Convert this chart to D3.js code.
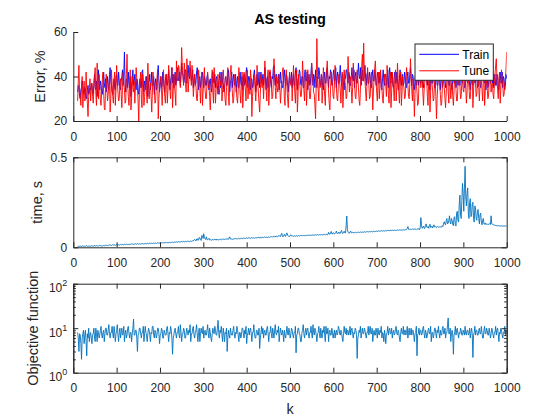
<!DOCTYPE html>
<html>
<head>
<meta charset="utf-8">
<script src="https://cdn.jsdelivr.net/npm/d3@7"></script>
<style>
  body { margin: 0; background: #fff; }
  svg { font-family: "Liberation Sans", Arial, sans-serif; }
</style>
</head>
<body>
<svg id="chart" width="560" height="420"></svg>
<script>
// error, % on the train set (blue), k = 10 .. 1000
const errTrain = [
  33,36,35,31,30,34,35,38,36,33,32,35,34,31,30,34,36,32,33,35,34,37,
  36,33,32,37,41,35,34,38,31,34,43,37,34,38,36,33,32,36,42,37,35,39,
  33,37,40,35,34,41,44,38,36,33,32,36,39,35,34,40,41,37,36,42,38,35,
  34,38,40,43,36,41,51,37,33,39,38,35,42,37,35,40,31,36,39,43,36,38,
  41,36,34,39,38,33,32,37,39,35,35,42,43,37,33,38,37,34,40,36,31,37,
  38,41,34,37,42,36,36,40,32,37,39,34,35,41,45,38,33,36,40,35,36,42,
  39,35,33,38,41,37,36,39,43,37,34,38,40,44,37,41,35,39,42,36,38,43,
  44,39,38,42,36,40,46,41,41,37,38,43,43,39,37,41,45,40,39,44,42,38,
  39,43,35,38,41,36,37,42,44,38,34,39,40,35,38,41,42,37,35,40,39,36,
  36,40,41,37,34,38,39,35,33,37,42,38,37,41,35,39,40,36,32,37,39,42,
  35,39,42,37,37,33,34,39,40,36,36,41,43,38,33,37,39,42,35,39,41,36,
  37,41,33,38,40,35,35,39,42,37,36,40,34,38,41,36,37,42,44,39,35,40,
  40,36,34,39,39,35,36,41,43,38,33,37,41,36,37,42,35,39,42,37,38,41,
  36,40,44,38,34,39,40,35,37,42,42,37,35,40,39,44,45,39,36,41,41,37,
  37,41,34,38,42,37,38,35,35,40,43,38,36,41,40,36,33,38,41,37,37,42,
  35,39,41,36,36,42,44,38,34,39,39,43,42,37,36,40,40,35,35,41,43,38,
  38,42,34,39,41,36,37,42,46,40,36,41,40,35,43,38,35,40,39,44,42,37,
  36,41,40,35,34,39,42,37,37,42,44,39,35,40,39,43,41,36,36,41,43,38,
  39,44,35,40,42,37,37,41,45,39,36,40,41,36,34,39,39,43,43,38,37,42,
  41,36,36,40,44,39,38,43,35,40,42,37,37,41,46,40,39,44,36,41,43,38,
  38,42,45,39,36,41,42,37,37,42,40,35,35,40,43,38,38,43,41,36,36,41,
  42,37,37,42,40,35,34,39,43,38,36,41,41,36,38,43,35,40,44,39,37,42,
  40,36,35,40,42,37,37,42,39,34,34,39,43,38,36,41,41,36,37,42,40,35,
  35,40,42,37,37,41,44,39,36,41,40,35,34,39,41,36,38,43,36,41,43,38,
  37,42,41,36,35,40,39,44,43,38,36,41,40,35,34,39,42,37,37,42,39,35,
  35,40,41,36,36,41,43,38,34,39,40,35,37,42,42,37,35,40,39,44,41,36,
  36,41,40,35,34,39,42,37,37,42,35,40,41,36,38,43,36,41,43,38,37,42,
  40,35,35,40,43,38,37,42,41,36,34,39,39,44,36,41,42,37,37,41,40,35,
  36,41,41,36,35,40,39,43,43,38,37,42,34,39,40,35,36,41,42,37,38,43,
  37,41,35,40,41,36,36,41,40,35,34,39,42,37,37,42,35,40,39,34,36,41,
  39
];
// error, % on the tune set (red)
const errTune = [
  29,38,45,33,31,27,36,40,26,32,38,29,30,42,34,28,22,31,35,39,29,34,
  37,31,28,35,40,44,32,27,46,36,30,41,35,29,27,33,39,42,33,26,25,36,
  41,35,29,32,36,39,24,30,43,37,31,28,38,42,27,34,45,38,33,29,30,37,
  39,32,26,35,42,37,34,28,29,41,50,36,31,27,37,43,25,30,40,35,33,38,
  28,36,44,39,35,29,20,33,38,42,30,26,41,35,27,31,36,40,32,28,46,38,
  30,35,37,31,24,33,42,38,33,28,29,36,39,43,21,30,35,38,40,34,27,35,
  43,37,31,28,36,41,28,34,45,39,34,30,39,44,26,33,41,36,32,27,47,40,
  38,45,44,39,35,42,53,45,40,36,46,42,37,33,48,43,33,38,42,47,39,36,
  45,40,31,36,41,37,36,30,29,35,43,39,35,28,38,42,27,33,40,44,34,30,
  30,37,42,35,36,31,25,33,39,43,33,28,44,38,28,34,37,40,41,35,32,38,
  36,41,29,34,43,38,34,29,27,35,40,44,31,27,38,42,45,37,33,28,30,36,
  41,36,35,30,28,34,44,39,32,28,37,42,26,33,42,38,34,29,39,43,30,35,
  37,32,43,38,22,31,36,41,40,34,29,35,45,39,33,28,24,32,41,36,35,39,
  30,38,47,41,34,29,39,43,27,33,43,38,36,30,31,37,48,42,35,30,40,35,
  33,37,41,35,28,33,37,42,44,38,30,27,39,43,35,30,26,34,42,37,36,40,
  29,36,45,39,33,28,38,43,24,31,41,37,36,31,31,36,47,40,34,29,39,43,
  27,34,43,38,35,30,30,37,46,40,38,33,32,27,21,36,57,42,34,29,40,35,
  36,41,28,33,44,38,31,27,39,43,47,39,33,28,25,34,42,38,37,31,30,36,
  45,39,35,30,29,36,41,37,34,28,38,42,26,33,43,38,36,30,31,38,49,41,
  33,38,40,34,28,35,46,40,37,31,30,36,43,39,35,29,27,34,41,45,50,38,
  55,42,38,33,29,36,44,39,36,30,31,37,42,36,25,33,39,44,47,38,33,29,
  37,42,30,35,43,38,35,30,28,35,41,37,36,31,45,39,32,28,38,42,26,33,
  42,37,34,29,39,43,29,35,46,39,33,28,37,42,27,33,40,36,35,30,31,38,
  44,38,36,31,30,37,48,40,34,29,39,33,22,32,41,36,33,27,28,36,43,38,
  35,41,40,33,27,34,37,42,45,38,31,27,38,43,24,33,42,37,34,29,30,37,
  39,31,21,30,36,41,43,36,32,27,28,35,41,37,35,30,26,33,38,42,33,28,
  44,37,30,35,37,31,27,34,40,44,34,29,29,36,42,37,36,30,31,38,39,34,
  33,39,41,35,28,33,45,39,35,30,30,36,38,42,26,33,43,38,37,31,32,38,
  40,35,29,36,46,40,34,29,38,42,27,33,42,37,35,30,31,38,44,39,33,37,
  37,32,30,36,41,45,48,39,34,30,39,42,28,34,43,38,36,31,32,37,38,44,
  51
];
// time per step, s
const timeS = [
  .006,.005,.004,.006,.007,.005,.005,.007,.008,.006,.005,.007,.006,.008,.009,.006,.005,.007,.007,.006,.006,.008,
  .008,.007,.006,.009,.010,.008,.007,.009,.009,.007,.006,.010,.011,.009,.008,.007,.007,.010,.010,.009,.008,.011,
  .012,.010,.009,.012,.011,.013,.013,.011,.010,.013,.014,.012,.012,.014,.011,.013,.015,.012,.013,.014,.012,.015,
  .016,.014,.014,.016,.013,.015,.017,.016,.015,.017,.018,.015,.016,.018,.014,.016,.017,.019,.019,.017,.016,.018,
  .018,.019,.017,.018,.020,.019,.018,.020,.016,.018,.019,.021,.021,.019,.018,.020,.020,.022,.019,.021,.022,.020,
  .021,.023,.020,.022,.023,.021,.022,.024,.021,.023,.024,.022,.022,.025,.025,.023,.023,.024,.022,.025,.026,.024,
  .025,.027,.024,.026,.027,.025,.026,.028,.025,.027,.028,.026,.026,.028,.029,.027,.027,.029,.028,.030,.030,.028,
  .029,.031,.031,.029,.030,.032,.032,.030,.031,.033,.030,.032,.033,.031,.032,.034,.034,.032,.031,.035,.035,.033,
  .034,.036,.036,.041,.044,.038,.035,.046,.048,.039,.040,.055,.052,.043,.038,.066,.062,.049,.075,.054,.047,.043,
  .058,.046,.041,.044,.050,.042,.043,.040,.039,.044,.042,.040,.045,.043,.041,.046,.040,.043,.043,.041,.042,.045,
  .044,.042,.043,.046,.046,.044,.044,.047,.043,.045,.049,.044,.045,.052,.058,.046,.047,.045,.044,.047,.046,.048,
  .046,.049,.048,.046,.047,.050,.049,.047,.047,.050,.050,.048,.048,.051,.051,.049,.049,.052,.052,.050,.050,.053,
  .051,.053,.050,.052,.053,.051,.052,.054,.050,.052,.054,.052,.052,.055,.055,.053,.053,.056,.051,.054,.056,.054,
  .054,.056,.057,.055,.055,.058,.053,.056,.058,.055,.056,.059,.060,.057,.057,.061,.062,.058,.058,.063,.061,.059,
  .059,.064,.066,.061,.060,.071,.078,.062,.058,.065,.072,.063,.061,.074,.080,.066,.063,.061,.060,.067,.070,.063,
  .062,.064,.061,.063,.064,.062,.062,.065,.063,.061,.065,.063,.063,.066,.066,.064,.064,.066,.065,.063,.067,.065,
  .066,.068,.065,.067,.068,.066,.067,.069,.066,.068,.069,.067,.067,.070,.070,.068,.068,.070,.067,.069,.070,.068,
  .069,.071,.071,.069,.070,.072,.072,.070,.070,.073,.069,.071,.083,.074,.072,.079,.088,.075,.074,.081,.080,.074,
  .076,.082,.090,.078,.074,.081,.085,.077,.078,.087,.094,.079,.076,.083,.089,.080,.080,.120,.174,.098,.083,.080,
  .078,.085,.090,.081,.080,.083,.082,.080,.081,.083,.083,.081,.082,.084,.084,.082,.083,.085,.082,.084,.085,.083,
  .084,.086,.086,.084,.085,.087,.087,.085,.086,.088,.085,.087,.088,.086,.087,.089,.089,.087,.088,.090,.090,.088,
  .089,.091,.091,.089,.090,.092,.092,.090,.091,.093,.090,.092,.093,.091,.092,.094,.094,.092,.093,.095,.092,.094,
  .094,.096,.093,.095,.095,.093,.094,.096,.096,.094,.095,.097,.097,.095,.096,.098,.095,.097,.098,.096,.097,.099,
  .099,.104,.115,.100,.098,.101,.100,.098,.099,.102,.102,.100,.100,.103,.101,.099,.103,.101,.101,.104,.098,.112,
  .165,.120,.105,.112,.118,.107,.104,.122,.130,.112,.110,.116,.106,.120,.128,.110,.112,.118,.108,.114,.125,.113,
  .112,.116,.110,.114,.115,.112,.111,.114,.113,.115,.112,.120,.116,.134,.142,.128,.125,.150,.160,.130,.135,.150,
  .175,.140,.130,.160,.150,.128,.120,.165,.170,.125,.118,.190,.200,.150,.140,.240,.290,.180,.160,.260,.355,.300,
  .200,.330,.450,.280,.230,.300,.330,.190,.160,.250,.270,.170,.180,.240,.250,.160,.140,.230,.220,.160,.150,.200,
  .210,.160,.130,.180,.190,.140,.125,.150,.160,.130,.128,.135,.126,.129,.130,.126,.127,.132,.129,.127,.175,.130,
  .128,.125,.126,.123,.124,.121,.120,.122,.118,.120,.121,.118,.117,.120,.119,.121,.116,.118,.120,.117,.118,.119,
  .118
];
// objective function (log axis)
const objective = [
  8,6,3,7.5,7,4.5,2,6,7.5,9,4.5,7,9,5,2.4,7.5,6,10,5,7,8,6,
  4.5,7,7.5,10,6,5,10,7.5,5,9,8,6,7,9,11,7,6,8,9,5,7.5,10,
  10,7,7,9,12,7.5,6,8,8,11,7.5,6,11,8,5,7.5,9,12,7,5,8,10,
  6,8,10,7,7.5,11,5,7.5,9,6,7,10,11,7.5,6,8,8,5,7.5,10,16,7,
  7,9,9,6,3,7,7.5,10,10,7.5,6,8,8,11,5,7.5,11,8,7,5,7.5,10,
  9,7,5,8,7.5,11,11,7,6,9,8,6,7,10,10,7.5,4.5,7,7.5,10,9,6,
  6,9,8,7,7,10,11,7.5,5,8,7.5,11,9,6,2.6,6,7,9,10,7.5,6,8,
  8,11,7,6,12,8,5,7.5,7.5,10,9,6,6,8,10,7.5,7,9,8,12,5,7.5,
  7.5,10,11,7,6,8,9,12,7,5,8,10,5,7.5,10,8,7.5,11,6,8,9,7,
  7,9,12,7.5,6,10,8,6,5,7.5,10,8,7.5,11,9,7,7,10,15,8,6,9,
  8,11,7,5,10,7.5,5,8,7.5,10,3,6,9,7,6,10,8,7,7,9,11,7.5,
  6,8,7.5,11,9,7,5,8,8,6,7,10,10,7.5,6,9,7.5,11,4.5,7,8,10,
  7,9,10,7.5,5,8,8,12,7.5,6,6,9,9,7,7,10,3.5,6,8,11,7.5,10,
  6,8,9,7,7,10,11,7.5,5,8,8,11,7.5,6,10,8,6,9,12,7.5,7,9,
  8,11,5,7.5,10,8,7,9,7.5,5,9,7,6,8,11,7.5,7,10,8,6,7.5,10,
  9,7,6,8,8,11,2.8,7,7.5,10,10,7.5,7,5,5,8,9,12,7.5,6,8,10,
  7,9,10,7.5,6,8,8,11,7.5,6,12,8,7,10,9,7,5,7.5,8,11,7.5,6,
  10,7.5,6,9,8,11,7,5,11,7.5,7.5,10,5,8,9,7,7,10,8,6,7.5,9,
  6,8,9,7,7.5,11,10,7.5,7,9,8,6,5,7.5,11,8,7.5,10,7,9,9,7,
  8,11,7,9,10,7.5,6,8,7.5,10,9,7,2.1,6,7,9,8,11,6,8,10,7.5,
  7.5,10,9,7,6,8,8,11,7,9,11,7.5,7.5,10,5,7.5,9,7,7,10,8,6,
  10,7.5,7,9,8,11,6,8,7.5,5,9,7,4.5,7.5,8,11,7,9,10,7.5,7.5,10,
  6,8,9,7,7.5,10,11,7.5,7,9,8,6,5,8,10,7.5,7.5,11,7,9,9,7,
  8,11,6,8,10,7,7.5,10,7,9,9,7,5,7.5,8,11,2.4,7,7.5,10,7,9,
  9,7,7.5,10,11,7.5,6,9,8,6,7,9,10,7.5,7.5,11,5,8,8,6,7,10,
  10,7.5,6,9,8,11,7.5,6,9,7,7,10,11,7.5,7.5,10,6,8,8,12,17,7.5,
  7.5,10,5,7.5,9,7,2.6,7,8,11,7,9,10,7.5,6,8,7.5,10,9,7,7,9,
  8,7,11,7.5,7,9,9,7,7.5,10,6,8,10,7.5,2.2,7,8,11,7,9,9,7,
  7,9,10,7.5,7.5,11,8,6,6,9,11,7.5,7.5,10,9,7,7,10,8,6,7.5,10,
  9,7,6,8,8,11,7,9,10,7.5,5,8,7.5,10,9,7,6,8,8,11,7,9,
  7.5
];
const seriesNames = ["Train", "Tune"];
const kTicks = [0, 100, 200, 300, 400, 500, 600, 700, 800, 900, 1000];
const errTicks = [20, 40, 60];
const timeTicks = [0, 0.5];
const objTicks = [1, 10, 100];
const objMinor = [2,3,4,5,6,7,8,9,20,30,40,50,60,70,80,90];

const axisCol = "#262626";
const svg = d3.select("#chart");

const x = d3.scaleLinear().domain([0, 1000]).range([73.3, 506.7]);

// each series runs from k = 10 to k = 1000 in equal steps
const kOf = (i, len) => 10 + i * 990 / (len - 1);

function styleAxis(g) {
  g.select(".domain").attr("stroke", axisCol);
  g.selectAll(".tick line").attr("stroke", axisCol);
  g.selectAll(".tick text").attr("fill", axisCol).attr("font-size", 12);
  g.attr("font-family", null);
}

function panel(id, y, yTicks, box, yFmt) {
  const [yb, yt] = y.range();
  svg.append("clipPath").attr("id", "clip-" + id)
    .append("rect").attr("x", x(0)).attr("y", yt)
    .attr("width", x(1000) - x(0)).attr("height", yb - yt);

  if (box) {
    svg.append("g").attr("transform", `translate(0,${yt})`)
      .call(d3.axisTop(x).tickValues(kTicks).tickSizeInner(-5).tickSizeOuter(0).tickFormat(""))
      .call(styleAxis);
    svg.append("g").attr("transform", `translate(${x(1000)},0)`)
      .call(d3.axisRight(y).tickValues(yTicks).tickSizeInner(-5).tickSizeOuter(0).tickFormat(""))
      .call(styleAxis);
  }
  svg.append("g").attr("transform", `translate(0,${yb})`)
    .call(d3.axisBottom(x).tickValues(kTicks).tickSizeInner(-5).tickSizeOuter(0)
      .tickPadding(11).tickFormat(d3.format("d")))
    .call(styleAxis);
  const gy = svg.append("g").attr("transform", `translate(${x(0)},0)`)
    .call(d3.axisLeft(y).tickValues(yTicks).tickSizeInner(-5).tickSizeOuter(0).tickPadding(6)
      .tickFormat(yFmt || null))
    .call(styleAxis);
  return gy;
}

function drawLine(id, y, vals, color) {
  svg.append("path")
    .datum(vals)
    .attr("clip-path", `url(#clip-${id})`)
    .attr("fill", "none")
    .attr("stroke", color)
    .attr("stroke-width", 0.9)
    .attr("d", d3.line().x((d, i) => x(kOf(i, vals.length))).y(d => y(d)));
}

function yLabel(text, xPos, y) {
  const [yb, yt] = y.range();
  svg.append("text")
    .attr("transform", `translate(${xPos},${(yb + yt) / 2}) rotate(-90)`)
    .attr("text-anchor", "middle")
    .attr("font-size", 14.5)
    .attr("fill", axisCol)
    .text(text);
}

// ---- panel 1: error
const yErr = d3.scaleLinear().domain([20, 60]).range([121, 32]);
drawLine("err", yErr, errTrain, "#0000ff");
drawLine("err", yErr, errTune, "#ff0000");
panel("err", yErr, errTicks, false);
yLabel("Error, %", 45, yErr);

svg.append("text")
  .attr("x", 290).attr("y", 24)
  .attr("text-anchor", "middle")
  .attr("font-size", 14.5).attr("font-weight", "bold")
  .attr("fill", "#000")
  .text("AS testing");

// legend
const leg = svg.append("g").attr("transform", "translate(415,44)");
leg.append("rect").attr("width", 78.3).attr("height", 36.3)
  .attr("fill", "#fff").attr("stroke", axisCol).attr("stroke-width", 1);
const legColors = ["#0000ff", "#ff0000"];
seriesNames.forEach((s, i) => {
  const yy = 10.3 + i * 16.5;
  leg.append("line").attr("x1", 4.3).attr("x2", 44).attr("y1", yy).attr("y2", yy)
    .attr("stroke", legColors[i]).attr("stroke-width", 1);
  leg.append("text").attr("x", 47.3).attr("y", yy + 4.3)
    .attr("font-size", 12).attr("fill", "#000").text(s);
});

// ---- panel 2: time
const yTime = d3.scaleLinear().domain([0, 0.5]).range([247.3, 157.3]);
drawLine("time", yTime, timeS, "#0072bd");
panel("time", yTime, timeTicks, true, d => d === 0 ? "0" : String(d));
yLabel("time, s", 41.5, yTime);

// ---- panel 3: objective (log)
const yObj = d3.scaleLog().domain([1, 100]).range([372.7, 283.7]);
drawLine("obj", yObj, objective, "#0072bd");
const gObj = panel("obj", yObj, objTicks, true, () => "");
gObj.selectAll(".tick text").each(function(d) {
  const t = d3.select(this).attr("dy", "0.69em");
  t.text("10");
  t.append("tspan").attr("dy", "-6").attr("font-size", 9).text(Math.round(Math.log10(d)));
});
// minor ticks left and right
svg.append("g").attr("transform", `translate(${x(0)},0)`)
  .call(d3.axisLeft(yObj).tickValues(objMinor).tickSizeInner(-2.5).tickSizeOuter(0).tickFormat(""))
  .call(styleAxis);
svg.append("g").attr("transform", `translate(${x(1000)},0)`)
  .call(d3.axisRight(yObj).tickValues(objMinor).tickSizeInner(-2.5).tickSizeOuter(0).tickFormat(""))
  .call(styleAxis);
yLabel("Objective function", 37.5, yObj);

svg.append("text")
  .attr("x", 290).attr("y", 414)
  .attr("text-anchor", "middle")
  .attr("font-size", 14.5)
  .attr("fill", axisCol)
  .text("k");
</script>
</body>
</html>
